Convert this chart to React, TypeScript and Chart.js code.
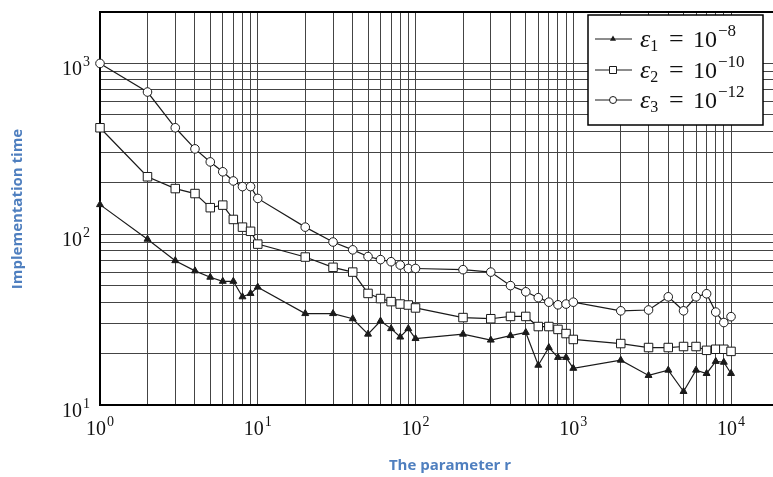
import React, { useEffect, useRef } from "react";
import { Chart, registerables } from "chart.js";
Chart.register(...registerables);

// ---- data ----
const rValues = [1, 2, 3, 4, 5, 6, 7, 8, 9, 10, 20, 30, 40, 50, 60, 70, 80, 90, 100, 200, 300, 400, 500, 600, 700, 800, 900, 1000, 2000, 3000, 4000, 5000, 6000, 7000, 8000, 9000, 10000];
const eps1 = [149, 93.5, 70, 61, 56, 53, 53, 43, 45, 49, 34.3, 34.3, 32, 26, 31, 28, 25, 28, 24.5, 26, 24, 25.5, 26.6, 17.1, 21.7, 19, 19, 16.4, 18.3, 14.9, 16, 12, 16, 15.3, 18, 17.8, 15.3];
const eps2 = [420, 217, 185, 173, 143, 148, 122, 110, 104, 87.5, 73.5, 64, 60, 45, 42, 40.3, 39, 38.5, 37, 32.5, 32, 33, 33, 28.8, 28.8, 27.7, 26.2, 24.2, 22.9, 21.7, 21.7, 22, 22, 20.9, 21.2, 21.2, 20.6];
const eps3 = [1000, 680, 420, 316, 265, 232, 205, 190, 190, 162, 110, 90, 81, 74, 71, 69, 66, 63, 63, 62, 60, 50, 46, 42.5, 40, 38.6, 39, 40, 35.6, 36, 43, 35.6, 43, 44.8, 35, 30.4, 32.9];

const seriesSubs = ["1", "2", "3"];
const seriesExps = ["\u22128", "\u221210", "\u221212"];

const xLabelValues = [1, 10, 100, 1000, 10000];
const yLabelValues = [10, 100, 1000];
const xTitle = "The parameter r";
const yTitle = "Implementation time";

const X_MIN = 1;
const X_MAX = 18450;
const Y_MIN = 10;
const Y_MAX = 2000;

const SERIF = '"Liberation Serif", "DejaVu Serif", serif';
const TITLE_FONT = '"Open Sans", "Noto Sans", sans-serif';
const TITLE_COLOR = "#4f7fbf";
const LINE_COLOR = "#1a1a1a";
const GRID_COLOR = "#444444";

function logGrid(min: number, max: number): number[] {
  const out: number[] = [];
  for (let d = Math.floor(Math.log10(min)); d <= Math.ceil(Math.log10(max)); d++) {
    for (let m = 1; m <= 9; m++) {
      const v = m * Math.pow(10, d);
      if (v >= min - 1e-9 && v <= max + 1e-9) out.push(Number(v.toPrecision(6)));
    }
  }
  return out;
}

function drawPower(ctx: CanvasRenderingContext2D, x: number, baseline: number, exp: string, align: "center" | "right") {
  ctx.save();
  ctx.fillStyle = "#111";
  ctx.textBaseline = "alphabetic";
  ctx.textAlign = "left";
  ctx.font = `20px ${SERIF}`;
  const w1 = ctx.measureText("10").width;
  ctx.font = `14px ${SERIF}`;
  const w2 = ctx.measureText(exp).width;
  const total = w1 + w2 + 1;
  const start = align === "center" ? x - total / 2 : x - total;
  ctx.font = `20px ${SERIF}`;
  ctx.fillText("10", start, baseline);
  ctx.font = `14px ${SERIF}`;
  ctx.fillText(exp, start + w1 + 1, baseline - 9);
  ctx.restore();
}

function drawMarker(ctx: CanvasRenderingContext2D, kind: number, x: number, y: number, r: number) {
  ctx.save();
  ctx.strokeStyle = LINE_COLOR;
  ctx.lineWidth = 1;
  ctx.beginPath();
  if (kind === 0) {
    ctx.fillStyle = LINE_COLOR;
    ctx.moveTo(x, y - r);
    ctx.lineTo(x + r * 0.87, y + r * 0.5);
    ctx.lineTo(x - r * 0.87, y + r * 0.5);
    ctx.closePath();
    ctx.fill();
  } else if (kind === 1) {
    ctx.fillStyle = "#fff";
    ctx.rect(x - r, y - r, 2 * r, 2 * r);
    ctx.fill();
    ctx.stroke();
  } else {
    ctx.fillStyle = "#fff";
    ctx.arc(x, y, r, 0, Math.PI * 2);
    ctx.fill();
    ctx.stroke();
  }
  ctx.restore();
}

const decorPlugin = {
  id: "decor",
  afterDraw(chart: any) {
    const ctx: CanvasRenderingContext2D = chart.ctx;
    const xs = chart.scales.x;
    const ys = chart.scales.y;
    const area = chart.chartArea;

    // tick labels
    xLabelValues.forEach((v) => {
      const px = xs.getPixelForValue(v);
      drawPower(ctx, px, area.bottom + 30, String(Math.round(Math.log10(v))), "center");
    });
    yLabelValues.forEach((v) => {
      const py = ys.getPixelForValue(v);
      drawPower(ctx, area.left - 10, py + 12, String(Math.round(Math.log10(v))), "right");
    });

    // axis titles
    ctx.save();
    ctx.fillStyle = TITLE_COLOR;
    ctx.font = `bold 15px ${TITLE_FONT}`;
    ctx.textAlign = "center";
    ctx.textBaseline = "middle";
    ctx.fillText(xTitle, 450, 466);
    ctx.translate(18, 209);
    ctx.rotate(-Math.PI / 2);
    ctx.fillText(yTitle, 0, 0);
    ctx.restore();

    // legend
    const bx = 588, by = 15, bw = 175, bh = 110;
    ctx.save();
    ctx.fillStyle = "#fff";
    ctx.fillRect(bx, by, bw, bh);
    ctx.strokeStyle = "#000";
    ctx.lineWidth = 1.5;
    ctx.strokeRect(bx, by, bw, bh);
    const rows = [39, 70, 100];
    rows.forEach((ry, i) => {
      ctx.strokeStyle = LINE_COLOR;
      ctx.lineWidth = 1;
      ctx.beginPath();
      ctx.moveTo(595, ry);
      ctx.lineTo(632, ry);
      ctx.stroke();
      drawMarker(ctx, i, 613, ry, 3.5);
      const base = ry + 8;
      ctx.fillStyle = "#111";
      ctx.textAlign = "left";
      ctx.textBaseline = "alphabetic";
      ctx.font = `italic 26px ${SERIF}`;
      ctx.fillText("\u03b5", 640, base);
      const we = ctx.measureText("\u03b5").width;
      ctx.font = `16px ${SERIF}`;
      ctx.fillText(seriesSubs[i], 640 + we, base + 4);
      ctx.font = `26px ${SERIF}`;
      ctx.fillText("=", 669, base);
      ctx.font = `24px ${SERIF}`;
      ctx.fillText("10", 693, base);
      ctx.font = `17px ${SERIF}`;
      ctx.fillText(seriesExps[i], 718, base - 11);
    });
    ctx.restore();
  },
};

export default function App() {
  const ref = useRef<HTMLCanvasElement | null>(null);
  useEffect(() => {
    if (!ref.current) return;
    const xGrid = logGrid(X_MIN, 10000);
    const yGrid = [...logGrid(Y_MIN, 1000), Y_MAX];
    const mk = (vals: number[]) => rValues.map((r, i) => ({ x: r, y: vals[i] }));
    const chart = new Chart(ref.current, {
      type: "line",
      data: {
        datasets: [
          { label: "eps1", data: mk(eps1), borderColor: LINE_COLOR, borderWidth: 1.2, pointStyle: "triangle", pointRadius: 4, pointBackgroundColor: LINE_COLOR, pointBorderColor: LINE_COLOR, pointBorderWidth: 1, clip: false, tension: 0 },
          { label: "eps2", data: mk(eps2), borderColor: LINE_COLOR, borderWidth: 1.2, pointStyle: "rect", pointRadius: 6, pointBackgroundColor: "#fff", pointBorderColor: LINE_COLOR, pointBorderWidth: 1, clip: false, tension: 0 },
          { label: "eps3", data: mk(eps3), borderColor: LINE_COLOR, borderWidth: 1.2, pointStyle: "circle", pointRadius: 4.3, pointBackgroundColor: "#fff", pointBorderColor: LINE_COLOR, pointBorderWidth: 1, clip: false, tension: 0 },
        ],
      },
      options: {
        animation: false,
        responsive: false,
        devicePixelRatio: 1,
        layout: { padding: { left: 100, top: 12, right: 0, bottom: 72 } },
        plugins: { legend: { display: false }, tooltip: { enabled: false } },
        scales: {
          x: {
            type: "logarithmic",
            min: X_MIN,
            max: X_MAX,
            afterBuildTicks: (s: any) => { s.ticks = xGrid.map((v) => ({ value: v })); },
            ticks: { display: false },
            grid: { color: GRID_COLOR, lineWidth: 1, drawTicks: false },
            border: { display: true, color: "#000", width: 2 },
          },
          y: {
            type: "logarithmic",
            min: Y_MIN,
            max: Y_MAX,
            afterBuildTicks: (s: any) => { s.ticks = yGrid.map((v) => ({ value: v })); },
            ticks: { display: false },
            grid: {
              color: (c: any) => (c.tick && c.tick.value === Y_MAX ? "#000" : GRID_COLOR),
              lineWidth: (c: any) => (c.tick && c.tick.value === Y_MAX ? 2 : 1),
              drawTicks: false,
            },
            border: { display: true, color: "#000", width: 2 },
          },
        },
      },
      plugins: [decorPlugin],
    } as any);
    return () => chart.destroy();
  }, []);
  return (
    <div style={{ position: "fixed", left: 0, top: 0, width: 773, height: 477, background: "#fff", overflow: "hidden" }}>
      <canvas ref={ref} width={780} height={477} />
    </div>
  );
}
